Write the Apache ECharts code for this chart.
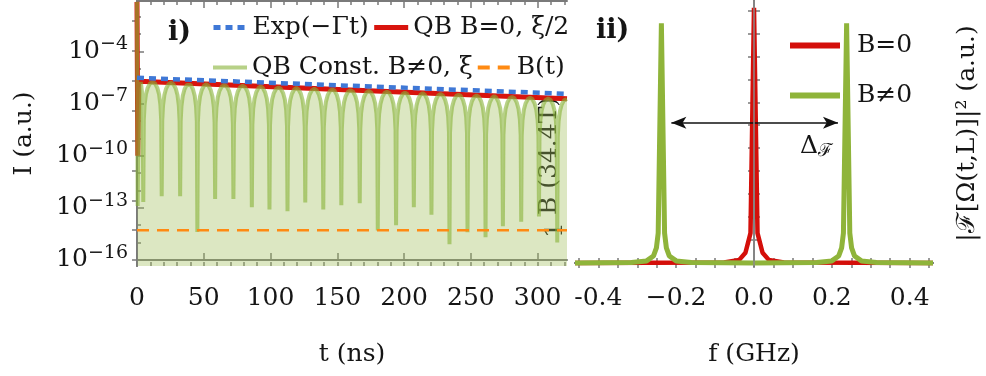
<!DOCTYPE html>
<html lang="en">
<head>
<meta charset="UTF-8">
<title>QB intensity and spectrum</title>
<script src="https://cdn.jsdelivr.net/npm/echarts@6/dist/echarts.min.js"></script>
<style>
    body { margin: 0; padding: 0; background: #fff; }
    #chart { width: 986px; height: 376px; }
</style>
</head>
<body>
<div id="chart"></div>
<script>
    // ---- panel i): log10 I against t (ns)
    var tMax = 322;
    var expDecay = [[0, -5.52], [322, -6.44]];
    var qbZero = [[0, -1.15], [0.6, -10.0], [1.3, -5.72], [160, -6.22], [322, -6.73]];
    var bField = [[0, 1], [322, 1]];
    // constant-B curve: start transient, then arches between nodes
    var qbStart = [[0, -1.15], [0.5, -12.9], [1.1, -8.0], [2.0, -6.1], [2.9, -5.76], [3.7, -6.3], [4.3, -7.9]];
    var dipT = [4.7, 18.5, 32.3, 45.2, 58.5, 72.2, 86, 99.2, 112.7, 126, 139.5, 153,
        166.8, 180.3, 194, 207.3, 220.5, 234, 247.5, 261, 274, 287.7, 301, 314.7];
    var dipLog = [-12.67, -12.34, -12.34, -14.4, -12.5, -12.5, -12.97, -13.1, -13.2, -12.7, -13.1, -12.86,
        -12.74, -14.3, -14.0, -12.97, -13.4, -15.1, -14.4, -14.7, -14.06, -13.8, -13.5, -15.0];
    var peakLog = [-5.77, -5.81, -5.85, -5.89, -5.94, -5.98, -6.02, -6.07, -6.11, -6.15, -6.19, -6.24,
        -6.28, -6.32, -6.37, -6.41, -6.45, -6.49, -6.54, -6.58, -6.62, -6.66, -6.71, -6.74];
    // arch flank: [ns from node, decades below arch top]
    var archShape = [[0.4, -2.2], [1.0, -1.3], [2.0, -0.7], [3.3, -0.33], [5.0, -0.08]];

    var tTicks = [0, 50, 100, 150, 200, 250, 300];
    var tMinor = [0, 10, 20, 30, 40, 50, 60, 70, 80, 90, 100, 110, 120, 130, 140, 150, 160,
        170, 180, 190, 200, 210, 220, 230, 240, 250, 260, 270, 280, 290, 300, 310, 320];
    var logLabels = [-16, -13, -10, -7, -4];
    var logMinor = [-16, -15, -14, -13, -12, -11, -10, -9, -8, -7, -6, -5, -4, -3, -2];
    var bTicks = [0, 1, 2, 3, 4, 5, 6, 7, 8];

    // ---- panel ii): spectrum
    var specB0 = [[-0.46, 0], [-0.077, 0.002], [-0.038, 0.012], [-0.022, 0.04], [-0.009, 0.117], [0, 1.0],
        [0.009, 0.117], [0.022, 0.04], [0.038, 0.012], [0.077, 0.002], [0.46, 0]];
    var specB1 = [[-0.46, 0], [-0.315, 0.002], [-0.276, 0.008], [-0.2585, 0.027], [-0.2508, 0.059],
        [-0.2462, 0.117], [-0.238, 0.94], [-0.2298, 0.117], [-0.2252, 0.059], [-0.2175, 0.027],
        [-0.2, 0.008], [-0.161, 0.002], [0, 0], [0.161, 0.002], [0.2, 0.008], [0.2175, 0.027],
        [0.2252, 0.059], [0.2298, 0.117], [0.238, 0.94], [0.2462, 0.117], [0.2508, 0.059],
        [0.2585, 0.027], [0.276, 0.008], [0.315, 0.002], [0.46, 0]];
    var fLabelVals = [-0.4, -0.2, 0, 0.2, 0.4];
    var fLabelText = ['-0.4', '\u22120.2', '0.0', '0.2', '0.4'];
    var fTicks = [-0.45, -0.4, -0.35, -0.3, -0.25, -0.2, -0.15, -0.1, -0.05, 0, 0.05, 0.1, 0.15,
        0.2, 0.25, 0.3, 0.35, 0.4, 0.45];
    var specTicks = [0, 0.09, 0.18, 0.27, 0.36, 0.45, 0.54, 0.63, 0.72, 0.81, 0.9, 0.99];

    var qbConst = qbStart.slice();
    dipT.forEach(function (t0, i) {
        var archTop = peakLog[i];
        qbConst.push([t0, dipLog[i]]);
        if (i + 1 < dipT.length) {
            var t1 = dipT[i + 1];
            var mid = (t0 + t1) / 2;
            archShape.forEach(function (s) { if (t0 + s[0] < mid) qbConst.push([t0 + s[0], archTop + s[1]]); });
            qbConst.push([mid, archTop]);
            archShape.slice().reverse().forEach(function (s) { if (t1 - s[0] > mid) qbConst.push([t1 - s[0], archTop + s[1]]); });
        } else {
            archShape.forEach(function (s) { if (t0 + s[0] < tMax) qbConst.push([t0 + s[0], archTop + s[1]]); });
            qbConst.push([tMax, archTop]);
        }
    });

    var FONT = 'DejaVu Serif';
    var INK = '#151515';
    var FRAME = '#7a7a7a';

    function frameLine() { return { show: true, lineStyle: { color: FRAME, width: 2 } }; }
    function ticks(vals, len) {
        return { show: true, inside: true, length: len, customValues: vals, lineStyle: { color: FRAME, width: 1.5 } };
    }
    function legendText(pad) {
        return { fontFamily: FONT, fontSize: 25, color: INK, padding: pad || 0 };
    }

    var myChart = echarts.init(document.getElementById('chart'));
    var option = {
        animation: false,
        textStyle: { fontFamily: FONT, color: INK },
        title: [
            { text: 'i)', left: 163, top: 14, textStyle: { fontFamily: FONT, fontWeight: 'bold', fontSize: 27, color: INK } },
            { text: 'ii)', left: 591, top: 12, textStyle: { fontFamily: FONT, fontWeight: 'bold', fontSize: 27, color: INK } }
        ],
        legend: [
            {
                data: ['Exp(\u2212\u0393t)', 'QB B=0, \u03be/2'], left: 206, top: 10,
                itemWidth: 34, itemHeight: 14, itemGap: 3, itemStyle: { opacity: 0 },
                lineStyle: { width: 5 },
                textStyle: legendText()
            },
            {
                data: ['QB Const. B\u22600, \u03be', 'B(t)'], left: 206, top: 50,
                itemWidth: 34, itemHeight: 14, itemGap: 3, itemStyle: { opacity: 0 },
                lineStyle: { width: 4 },
                textStyle: legendText()
            },
            {
                data: ['B=0', 'B\u22600'], orient: 'vertical', left: 782, top: 28,
                itemWidth: 50, itemHeight: 14, itemGap: 25, itemStyle: { opacity: 0 },
                lineStyle: { width: 6 },
                textStyle: legendText([0, 0, 0, 12])
            }
        ],
        grid: [
            { left: 137, top: 1, width: 430, height: 265 },
            { left: 575, top: 1, width: 358, height: 265 }
        ],
        xAxis: [
            {
                type: 'value', gridIndex: 0, min: 0, max: tMax, position: 'bottom',
                axisLine: frameLine(), axisTick: ticks(tTicks, 7), splitLine: { show: false },
                axisLabel: { customValues: tTicks, margin: 20, fontSize: 25, color: INK },
                name: 't (ns)', nameLocation: 'middle', nameGap: 76,
                nameTextStyle: { fontFamily: FONT, fontSize: 25, color: INK }
            },
            {
                type: 'value', gridIndex: 0, min: 0, max: tMax, position: 'bottom',
                axisLine: { show: false }, axisTick: ticks(tMinor, 4), axisLabel: { show: false }, splitLine: { show: false }
            },
            {
                type: 'value', gridIndex: 0, min: 0, max: tMax, position: 'top',
                axisLine: frameLine(), axisTick: ticks(tTicks, 7), axisLabel: { show: false }, splitLine: { show: false }
            },
            {
                type: 'value', gridIndex: 0, min: 0, max: tMax, position: 'top',
                axisLine: { show: false }, axisTick: ticks(tMinor, 4), axisLabel: { show: false }, splitLine: { show: false }
            },
            {
                type: 'value', gridIndex: 1, min: -0.46, max: 0.46, position: 'bottom',
                axisLine: frameLine(), axisTick: ticks(fTicks, 5), splitLine: { show: false },
                axisLabel: {
                    customValues: fLabelVals, margin: 20, fontSize: 25, color: INK,
                    formatter: function (v) {
                        var k = fLabelVals.findIndex(function (x) { return Math.abs(x - v) < 1e-6; });
                        return k < 0 ? '' : fLabelText[k];
                    }
                },
                name: 'f (GHz)', nameLocation: 'middle', nameGap: 76,
                nameTextStyle: { fontFamily: FONT, fontSize: 25, color: INK }
            },
            {
                type: 'value', gridIndex: 1, min: -0.46, max: 0.46, position: 'top',
                axisLine: frameLine(), axisTick: ticks(fTicks, 5), axisLabel: { show: false }, splitLine: { show: false }
            }
        ],
        yAxis: [
            {
                type: 'value', gridIndex: 0, min: -16.35, max: -1.1, position: 'left',
                axisLine: frameLine(), axisTick: ticks(logLabels, 7), splitLine: { show: false },
                axisLabel: {
                    customValues: logLabels, margin: 9, color: INK,
                    formatter: function (v) { return '{b|10}{s|\u2212' + Math.abs(v) + '}'; },
                    rich: {
                        b: { fontFamily: FONT, fontSize: 25, lineHeight: 25, verticalAlign: 'bottom', color: INK },
                        s: { fontFamily: FONT, fontSize: 19, lineHeight: 19, verticalAlign: 'bottom', padding: [0, 0, 10, 0], color: INK }
                    }
                },
                name: 'I (a.u.)', nameLocation: 'middle', nameGap: 100,
                nameTextStyle: { fontFamily: FONT, fontSize: 25, color: INK }
            },
            {
                type: 'value', gridIndex: 0, min: -16.35, max: -1.1, position: 'left',
                axisLine: { show: false }, axisTick: ticks(logMinor, 4), axisLabel: { show: false }, splitLine: { show: false }
            },
            {
                type: 'value', gridIndex: 0, min: -0.2, max: 8.67, position: 'right',
                axisLine: frameLine(), axisTick: ticks(bTicks, 5), splitLine: { show: false },
                axisLabel: { customValues: [1], inside: true, rotate: 90, margin: -1, fontSize: 25, color: INK }
            },
            {
                type: 'value', gridIndex: 1, min: -0.012, max: 1.027, position: 'left',
                axisLine: frameLine(), axisTick: ticks(specTicks, 6), axisLabel: { show: false }, splitLine: { show: false }
            },
            {
                type: 'value', gridIndex: 1, min: -0.012, max: 1.027, position: 'right',
                axisLine: frameLine(), axisTick: ticks(specTicks, 6), axisLabel: { show: false }, splitLine: { show: false },
                name: '|\u2131[\u03a9(t,L)]|\u00b2 (a.u.)', nameLocation: 'middle', nameGap: 22,
                nameTextStyle: { fontFamily: FONT, fontSize: 25, color: INK }
            }
        ],
        graphic: [
            {
                type: 'text', x: 549, y: 156, rotation: Math.PI / 2,
                style: { text: 'B (34.4T)', fontFamily: FONT, fontSize: 25, fill: INK, align: 'center', verticalAlign: 'middle' }
            },
            {
                type: 'text', x: 800, y: 134,
                style: {
                    text: '{d|\u0394}{f|\u2131}',
                    rich: {
                        d: { fontFamily: FONT, fontSize: 25, fill: INK, lineHeight: 26, verticalAlign: 'top' },
                        f: { fontFamily: FONT, fontSize: 18, fill: INK, lineHeight: 18, verticalAlign: 'bottom', padding: [8, 0, 0, 0] }
                    }
                }
            }
        ],
        series: [
            {
                name: 'QB B=0, \u03be/2', type: 'line', xAxisIndex: 0, yAxisIndex: 0, data: qbZero,
                symbol: 'none', z: 2, itemStyle: { color: '#d8140e' }, lineStyle: { color: '#d8140e', width: 5 }
            },
            {
                name: 'QB Const. B\u22600, \u03be', type: 'line', xAxisIndex: 0, yAxisIndex: 0, data: qbConst,
                symbol: 'none', z: 3, itemStyle: { color: '#8ab23a' }, lineStyle: { color: 'rgba(135,178,55,0.6)', width: 4 },
                areaStyle: { color: 'rgba(158,190,88,0.52)', origin: 'start' }
            },
            {
                name: 'Exp(\u2212\u0393t)', type: 'line', xAxisIndex: 0, yAxisIndex: 0, data: expDecay,
                symbol: 'none', z: 4, itemStyle: { color: '#3f78d6' }, lineStyle: { color: '#3f78d6', width: 4.5, type: [7, 5] }
            },
            {
                name: 'B(t)', type: 'line', xAxisIndex: 0, yAxisIndex: 2, data: bField,
                symbol: 'none', z: 5, itemStyle: { color: '#ff8a12' }, lineStyle: { color: '#ff8a12', width: 2.5, type: [12, 8] }
            },
            {
                name: 'B=0', type: 'line', xAxisIndex: 4, yAxisIndex: 3, data: specB0,
                symbol: 'none', z: 2, itemStyle: { color: '#d40f0a' }, lineStyle: { color: '#d40f0a', width: 4.5 }
            },
            {
                name: 'B\u22600', type: 'line', xAxisIndex: 4, yAxisIndex: 3, data: specB1,
                symbol: 'none', z: 3, itemStyle: { color: '#8fb43a' }, lineStyle: { color: '#8fb43a', width: 5 },
                markLine: {
                    silent: true, symbol: ['none', 'none'], label: { show: false },
                    data: [
                        [
                            { coord: [-0.2124, 0.55], symbol: 'arrow', symbolSize: [9, 15] },
                            { coord: [0.2158, 0.55], symbol: 'arrow', symbolSize: [9, 15] }
                        ],
                        { xAxis: 0, lineStyle: { color: '#8a8a8a', width: 1.5, type: 'solid' } }
                    ],
                    lineStyle: { color: '#111', width: 1.5, type: 'solid' }
                }
            }
        ]
    };
    myChart.setOption(option);
</script>
</body>
</html>
